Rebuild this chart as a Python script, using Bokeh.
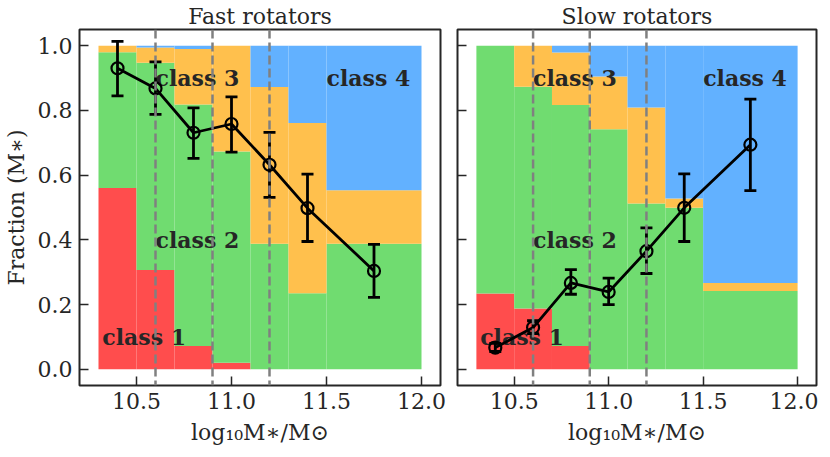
import numpy as np
from bokeh.plotting import figure
from bokeh.models import (Range1d, Span, Whisker, TeeHead, ColumnDataSource, FixedTicker,
                          PrintfTickFormatter)
from bokeh.layouts import row
from bokeh.core.properties import value
from bokeh.embed import file_html
from bokeh.resources import INLINE

# ---------------- data ----------------
bin_edges = [10.3, 10.5, 10.7, 10.9, 11.1, 11.3, 11.5, 12.0]
mass_points = [10.4, 10.6, 10.8, 11.0, 11.2, 11.4, 11.75]
class_names = ["class 1", "class 2", "class 3", "class 4"]
class_colors = ["#ff4d4d", "#70dc70", "#ffc04d", "#62b1ff"]
divider_masses = [10.6, 10.9, 11.2]

fast_class1 = [0.56, 0.307, 0.072, 0.02, 0.0, 0.0, 0.0]
fast_class2 = [0.42, 0.64, 0.746, 0.653, 0.388, 0.235, 0.388]
fast_class3 = [0.02, 0.047, 0.172, 0.327, 0.484, 0.526, 0.165]
fast_class4 = [0.0, 0.006, 0.01, 0.0, 0.128, 0.239, 0.447]

slow_class1 = [0.234, 0.188, 0.072, 0.0, 0.0, 0.0, 0.0]
slow_class2 = [0.766, 0.685, 0.745, 0.742, 0.512, 0.499, 0.242]
slow_class3 = [0.0, 0.127, 0.162, 0.163, 0.297, 0.029, 0.025]
slow_class4 = [0.0, 0.0, 0.021, 0.095, 0.191, 0.472, 0.733]

fast_frac = [0.93, 0.868, 0.731, 0.758, 0.632, 0.498, 0.304]
fast_lo = [0.845, 0.788, 0.652, 0.671, 0.531, 0.395, 0.222]
fast_hi = [1.013, 0.95, 0.808, 0.842, 0.732, 0.603, 0.386]

slow_frac = [0.067, 0.129, 0.267, 0.239, 0.365, 0.499, 0.694]
slow_lo = [0.055, 0.11, 0.232, 0.2, 0.296, 0.395, 0.552]
slow_hi = [0.08, 0.15, 0.308, 0.282, 0.437, 0.604, 0.835]

x_ticks = [10.5, 11.0, 11.5, 12.0]
y_ticks = [0.0, 0.2, 0.4, 0.6, 0.8, 1.0]

label_x = [10.32, 10.6, 10.6, 11.5]
label_y = [0.1, 0.4, 0.9, 0.9]

FONT = "DejaVu Serif"
DARK = "#262626"


def make_panel(title, classes, frac, lo, hi, show_ylabels, border_left, border_right, frame_w):
    p = figure(frame_width=frame_w, frame_height=356,
               x_range=Range1d(10.2, 12.1), y_range=Range1d(-0.05, 1.05),
               output_backend="svg", toolbar_location=None,
               min_border_left=border_left, min_border_right=border_right,
               min_border_top=0, min_border_bottom=0)
    p.title.text = title
    p.title.align = "center"
    p.title.text_font = FONT
    p.title.text_font_size = "22px"
    p.title.text_font_style = "normal"
    p.title.text_color = DARK
    p.title.standoff = 2
    p.grid.visible = False
    p.outline_line_color = DARK
    p.outline_line_width = 2
    p.outline_line_alpha = 1

    left = np.array(bin_edges[:-1])
    right = np.array(bin_edges[1:])
    bottom = np.zeros(len(left))
    for vals, col in zip(classes, class_colors):
        top = bottom + np.array(vals)
        p.quad(left=left, right=right, bottom=bottom, top=top,
               fill_color=col, line_color=None)
        bottom = top

    p.text(x=label_x, y=label_y, text=class_names, text_font=value(FONT),
           text_font_size="22px", text_font_style="bold", text_color=DARK,
           text_baseline="alphabetic", text_align="left")

    src = ColumnDataSource(dict(x=mass_points, y=frac, lo=lo, hi=hi))
    w = Whisker(source=src, base="x", upper="hi", lower="lo", dimension="height",
                line_color="black", line_width=2.8, level="overlay",
                upper_head=TeeHead(size=12, line_color="black", line_width=2.8),
                lower_head=TeeHead(size=12, line_color="black", line_width=2.8))
    p.add_layout(w)
    p.line("x", "y", source=src, line_color="black", line_width=2.8)
    p.scatter("x", "y", source=src, marker="circle", size=12, fill_color=None,
              line_color="black", line_width=2.2)

    for m in divider_masses:
        p.add_layout(Span(location=m, dimension="height", line_color="#808080",
                          line_width=2.5, line_dash="9 4", level="overlay"))

    for ax in (p.xaxis[0], p.yaxis[0]):
        ax.axis_line_color = None
        ax.major_tick_in = 9
        ax.major_tick_out = 0
        ax.major_tick_line_color = DARK
        ax.major_tick_line_width = 1.5
        ax.minor_tick_line_color = None
        ax.major_label_text_font = FONT
        ax.major_label_text_font_size = "22px"
        ax.major_label_text_color = DARK
        ax.axis_label_text_font = FONT
        ax.axis_label_text_font_size = "22px"
        ax.axis_label_text_font_style = "normal"
        ax.axis_label_text_color = DARK
        ax.formatter = PrintfTickFormatter(format="%.1f")
    p.xaxis.ticker = FixedTicker(ticks=x_ticks)
    p.yaxis.ticker = FixedTicker(ticks=y_ticks)
    p.xaxis.major_label_standoff = 7
    p.xaxis.axis_label = "log\u2081\u2080M\u2217/M\u2299"
    p.xaxis.axis_label_standoff = 8
    p.yaxis.major_label_standoff = 7
    if show_ylabels:
        p.yaxis.axis_label = "Fraction (M\u2217)"
        p.yaxis.axis_label_standoff = 6
    else:
        p.yaxis.major_label_overrides = {t: "" for t in y_ticks}
        p.yaxis.major_label_text_font_size = "0px"
        p.yaxis.major_label_standoff = 0
    return p


p1 = make_panel("Fast rotators", [fast_class1, fast_class2, fast_class3, fast_class4],
                fast_frac, fast_lo, fast_hi, True, 75, 9, 361)
p2 = make_panel("Slow rotators", [slow_class1, slow_class2, slow_class3, slow_class4],
                slow_frac, slow_lo, slow_hi, False, 8, 2, 359)

layout = row(p1, p2)
open("out.html", "w").write(file_html(layout, INLINE))
